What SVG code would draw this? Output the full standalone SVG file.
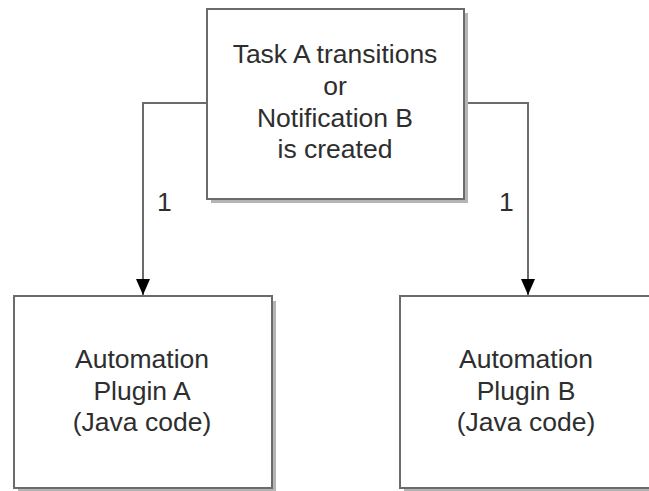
<svg xmlns="http://www.w3.org/2000/svg" width="649" height="491" viewBox="0 0 649 491">
  <style>
    .box { fill: #ffffff; stroke: #6b6b6b; stroke-width: 2; }
    .shadow { fill: none; stroke: #b4b4b4; stroke-width: 4; }
    .lbl { font-family: 'Liberation Sans', Arial, sans-serif; font-size: 26.5px; fill: #2e2e2e; text-anchor: middle; }
    .num { font-family: 'Liberation Sans', Arial, sans-serif; font-size: 26.5px; fill: #2e2e2e; }
    .conn { fill: none; stroke: #6b6b6b; stroke-width: 2; }
  </style>
  <defs>
    <marker id="arrow" viewBox="0 0 16 14" refX="16" refY="7" markerWidth="16" markerHeight="14" markerUnits="userSpaceOnUse" orient="auto">
      <path d="M0,0 L16,7 L0,14 Z" fill="#000000"/>
    </marker>
  </defs>
  <rect width="649" height="491" fill="#ffffff"/>

  <g id="connectors">
    <polyline class="conn" points="207,103 143,103 143,295" marker-end="url(#arrow)"/>
    <polyline class="conn" points="464,103 528,103 528,295" marker-end="url(#arrow)"/>
    <text class="num" x="157" y="211">1</text>
    <text class="num" x="499" y="211">1</text>
  </g>

  <g id="trigger">
    <polyline class="shadow" points="466,13 466,201 211,201"/>
    <rect class="box" x="207" y="9" width="257" height="190"/>
    <text class="lbl" x="335" y="63">Task A transitions</text>
    <text class="lbl" x="335" y="95">or</text>
    <text class="lbl" x="335" y="127">Notification B</text>
    <text class="lbl" x="335" y="158">is created</text>
  </g>

  <g id="pluginA">
    <polyline class="shadow" points="274,301 274,490 18,490"/>
    <rect class="box" x="14" y="296" width="258" height="192"/>
    <text class="lbl" x="142" y="368">Automation</text>
    <text class="lbl" x="142" y="399.5">Plugin A</text>
    <text class="lbl" x="142" y="431">(Java code)</text>
  </g>

  <g id="pluginB">
    <polyline class="shadow" points="660,301 660,490 404,490"/>
    <rect class="box" x="400" y="296" width="258" height="192"/>
    <text class="lbl" x="526" y="368">Automation</text>
    <text class="lbl" x="526" y="399.5">Plugin B</text>
    <text class="lbl" x="526" y="431">(Java code)</text>
  </g>
</svg>
